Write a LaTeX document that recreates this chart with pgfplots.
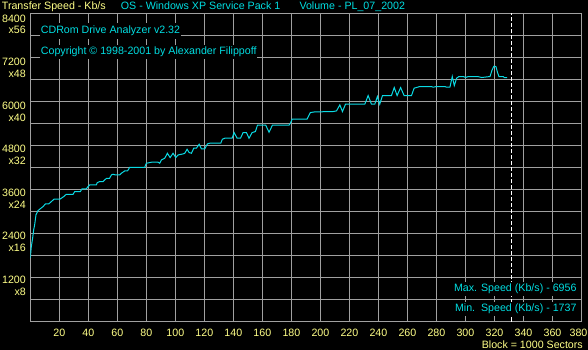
\documentclass[border=0pt]{standalone}
\usepackage{pgfplots}
\pgfplotsset{compat=1.18}
\usepackage{fontspec}
\setmainfont{Liberation Sans}
\definecolor{ylab}{RGB}{255,255,136}
\definecolor{cyt}{RGB}{0,222,226}
\definecolor{cyl}{RGB}{10,218,228}
\definecolor{gridg}{RGB}{160,160,160}
\newcommand{\yl}[3]{\raisebox{-#1bp}{\begin{tabular}[t]{@{}r@{}}#2\\#3\end{tabular}}}
\begin{document}
\fontsize{10.7}{12}\selectfont
\begin{tikzpicture}[font=\fontsize{10.7}{12}\selectfont]
\fill[black] (0bp,0bp) rectangle (588bp,350bp);
\useasboundingbox (0bp,0bp) rectangle (588bp,350bp);
\clip (0bp,0bp) rectangle (588bp,350bp);
\begin{axis}[
  at={(30.3bp,28.5bp)}, anchor=south west,
  scale only axis, width=551.2bp, height=308.2bp,
  xmin=0, xmax=380, ymin=0, ymax=8400,
  axis line style={gridg, line width=1bp},
  grid=major, major grid style={gridg, line width=1bp},
  major tick length=0pt,
  xtick={20,40,...,380},
  xticklabels={20,40,60,80,100,120,140,160,180,200,220,240,260,280,300,320,340,360,{380\hspace*{6bp}}},
  ytick={0,600,...,8400},
  yticklabels={,,{\yl{5.7}{1200}{x8}},,{\yl{6.2}{2400}{x16}},,{\yl{6.7}{3600}{x24}},,{\yl{7.2}{4800}{x32}},,{\yl{7.7}{6000}{x40}},,{\yl{8.2}{7200}{x48}},,{\yl{8.7}{8400}{x56}}},
  xticklabel style={text=ylab, inner sep=0pt, anchor=base, yshift=-15.2bp, font=\fontsize{10.7}{12}\selectfont},
  yticklabel style={text=ylab, inner sep=0pt, anchor=base east, xshift=-4.3bp, font=\fontsize{10.7}{12}\selectfont},
]
\addplot[cyl, line width=1bp, mark=none] coordinates {
(0,1737) (0.7,2040) (1.6,2268) (2.3,2495) (3.0,2632) (3.9,2904) (5.3,3022) (6.7,3068)
(8.8,3131) (10.4,3204) (12.7,3204) (14.5,3268) (16.3,3332) (20.3,3332) (21.4,3359)
(23.0,3404) (24.8,3468) (29.5,3468) (30.6,3541) (34.5,3541) (35.6,3613) (38.6,3613)
(39.8,3677) (40.9,3722) (45.5,3722) (46.2,3786) (47.8,3813) (50.1,3813) (51.3,3859)
(52.6,3904) (54.7,3904) (55.9,3995) (57.0,4013) (58.6,3995) (61.6,3995) (62.8,4041)
(65.1,4104) (66.9,4104) (67.5,4131) (68.5,4204) (78.9,4204) (80.0,4313) (83.5,4341)
(88.1,4341) (89.2,4313) (90.4,4404) (92.7,4449) (94.5,4586) (96.4,4468) (98.4,4586)
(100.3,4468) (101.9,4540) (105.4,4568) (106.5,4586) (108.1,4695) (109.5,4604)
(111.1,4586) (112.7,4723) (114.5,4723) (116.4,4832) (118.0,4704) (120.3,4704)
(122.1,4841) (123.7,4859) (131.3,4859) (132.4,4968) (134.1,4995) (139.1,4995)
(140.5,5149) (142.6,4995) (144.9,4995) (146.7,5149) (149.0,5149) (150.8,4995)
(152.9,5149) (155.2,5177) (156.6,5350) (162.3,5350) (164.6,5158) (166.9,5350)
(178.4,5350) (179.3,5404) (180.5,5513) (190.8,5513) (193.1,5695) (196.1,5713)
(208.7,5722) (211.1,5740) (213.4,5904) (215.2,5722) (217.3,5922) (230.6,5922)
(232.9,6158) (235.2,5922) (237.5,5922) (239.3,6131) (240.9,5922) (242.8,6158)
(249.0,6158) (250.9,6377) (252.9,6158) (255.3,6377) (257.7,6158) (262.8,6158)
(264.6,6359) (268.5,6404) (276.6,6404) (277.7,6386) (280.0,6404) (285.8,6404)
(287.0,6386) (289.3,6386) (290.9,6677) (292.3,6431) (293.9,6632) (295.5,6677)
(298.5,6677) (300.1,6650) (302.0,6677) (308.4,6677) (311.2,6650) (316.9,6677)
(318.4,6859) (319.6,6956) (321.0,6949) (322.1,6786) (323.1,6677) (326.1,6677)
(326.7,6650) (328.8,6650)
};
\addplot[white, line width=1bp, dash pattern=on 4bp off 2bp, mark=none] coordinates {(331.7,0) (331.7,8400)};
\end{axis}
\node[anchor=base west, text=ylab, inner sep=0pt] at (1.7bp,340bp) {Transfer Speed - Kb/s};
\node[anchor=base west, text=cyt, inner sep=0pt] at (120.7bp,340bp) {OS - Windows XP Service Pack 1};
\node[anchor=base west, text=cyt, inner sep=0pt] at (299.3bp,340bp) {Volume - PL\_07\_2002};
\node[anchor=base west, text=cyt, fill=black, inner xsep=0.5bp, inner ysep=3bp] at (40.2bp,316bp) {CDRom Drive Analyzer v2.32};
\node[anchor=base west, text=cyt, fill=black, inner xsep=0.5bp, inner ysep=2bp] at (40.2bp,295.7bp) {Copyright \textcopyright{} 1998-2001 by Alexander Filippoff};
\node[anchor=base east, text=cyt, fill=black, inner xsep=0.5bp, inner ysep=2bp] at (577.2bp,58.3bp) {Max. Speed (Kb/s) - 6956};
\node[anchor=base east, text=cyt, fill=black, inner xsep=0.5bp, inner ysep=2bp] at (577.2bp,38.3bp) {Min.\ \ Speed (Kb/s) - 1737};
\node[anchor=base east, text=ylab, inner sep=0pt] at (583bp,2bp) {Block = 1000 Sectors};
\end{tikzpicture}
\end{document}
